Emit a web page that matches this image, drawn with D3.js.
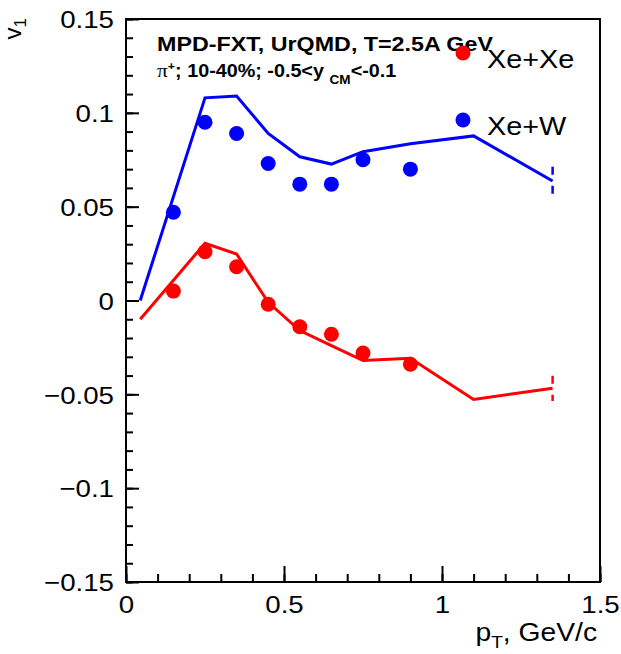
<!DOCTYPE html>
<html>
<head>
<meta charset="utf-8">
<script src="https://cdn.jsdelivr.net/npm/d3@7"></script>
<style>
body { margin: 0; background: #fff; }
text { font-family: "Liberation Sans", Arial, sans-serif; }
</style>
</head>
<body>
<div id="root"></div>
<script>
// points (UrQMD markers)
const ptDots = [0.15, 0.25, 0.35, 0.45, 0.55, 0.65, 0.75, 0.9];
const xexeDots = [0.005, 0.026, 0.018, -0.002, -0.014, -0.018, -0.028, -0.034];
const xewDots = [0.047, 0.095, 0.089, 0.073, 0.062, 0.062, 0.075, 0.070];
// curves
const ptLine = [0.045, 0.25, 0.35, 0.45, 0.55, 0.65, 0.75, 0.9, 1.1, 1.35];
const xexeLine = [-0.010, 0.0305, 0.0248, -0.001, -0.016, -0.024, -0.032, -0.0308, -0.0527, -0.0468];
const xewLine = [0, 0.108, 0.109, 0.089, 0.0766, 0.0727, 0.0793, 0.0835, 0.0877, 0.0637];
// dashed error at the last curve point
const xexeEndErr = 0.0067;
const xewEndErr = 0.0076;
const xTicks = [0, 0.5, 1, 1.5];
const yTicks = [-0.15, -0.1, -0.05, 0, 0.05, 0.1, 0.15];
const seriesNames = ['Xe+Xe', 'Xe+W'];
const seriesColors = ['#ff0000', '#0000ff'];

const width = 621;
const height = 654;
const SX = 1.13; // horizontal stretch of the original canvas
const margin = {left: 126, right: 21, top: 19, bottom: 72};

const x = d3.scaleLinear().domain([0, 1.5]).range([margin.left, width - margin.right]);
const y = d3.scaleLinear().domain([-0.15, 0.15]).range([height - margin.bottom, margin.top]);

const svg = d3.select('#root')
    .append('svg')
    .attr('width', width)
    .attr('height', height);

const fmt = v => {
    const s = d3.format('')(+v.toFixed(2));
    return s.replace('-', '\u2212');
};

// minor ticks
svg.append('g')
    .attr('transform', `translate(0,${y(-0.15)})`)
    .call(d3.axisBottom(x).tickValues(d3.range(0, 1.501, 0.1)).tickSize(-8).tickFormat(''));
svg.append('g')
    .attr('transform', `translate(${x(0)},0)`)
    .call(d3.axisLeft(y).tickValues(d3.range(-0.15, 0.1501, 0.01)).tickSize(-7).tickFormat(''));

// major ticks + labels
const xAxis = svg.append('g')
    .attr('transform', `translate(0,${y(-0.15)})`)
    .call(d3.axisBottom(x).tickValues(xTicks).tickSize(-16).tickFormat(fmt));
xAxis.selectAll('text')
    .attr('y', null).attr('dy', null)
    .attr('transform', `translate(0,31) scale(${SX},1)`)
    .attr('font-size', 24.5);

const yAxis = svg.append('g')
    .attr('transform', `translate(${x(0)},0)`)
    .call(d3.axisLeft(y).tickValues(yTicks).tickSize(-13).tickFormat(fmt));
yAxis.selectAll('text')
    .attr('x', 0).attr('dy', '0.36em')
    .attr('transform', `translate(-12,0) scale(${SX},1)`)
    .attr('text-anchor', 'end')
    .attr('font-size', 24.5);

svg.selectAll('.domain').remove();
svg.selectAll('.tick line').attr('stroke', '#000').attr('stroke-width', 2);
svg.selectAll('.tick text').attr('fill', '#000').attr('font-family', '"Liberation Sans", Arial, sans-serif');

// frame
svg.append('rect')
    .attr('x', x(0)).attr('y', y(0.15))
    .attr('width', x(1.5) - x(0)).attr('height', y(-0.15) - y(0.15))
    .attr('fill', 'none').attr('stroke', '#000').attr('stroke-width', 2);

// curves
const line = d3.line().x(d => x(d[0])).y(d => y(d[1]));
const curves = [xexeLine, xewLine];
const endErrs = [xexeEndErr, xewEndErr];
curves.forEach((vals, i) => {
    svg.append('path')
        .datum(ptLine.map((p, j) => [p, vals[j]]))
        .attr('d', line)
        .attr('fill', 'none')
        .attr('stroke', seriesColors[i])
        .attr('stroke-width', 3)
        .attr('stroke-linejoin', 'miter');
    const last = vals[vals.length - 1];
    const xe = ptLine[ptLine.length - 1];
    svg.append('line')
        .attr('x1', x(xe)).attr('x2', x(xe))
        .attr('y1', y(last + endErrs[i])).attr('y2', y(last - endErrs[i]))
        .attr('stroke', seriesColors[i])
        .attr('stroke-width', 2.5)
        .attr('stroke-dasharray', '8,11');
});

// markers
[xexeDots, xewDots].forEach((vals, i) => {
    svg.append('g')
        .selectAll('circle')
        .data(ptDots.map((p, j) => [p, vals[j]]))
        .join('circle')
        .attr('cx', d => x(d[0]))
        .attr('cy', d => y(d[1]))
        .attr('r', 7.5)
        .attr('fill', seriesColors[i]);
});

// header text
svg.append('text')
    .attr('transform', `translate(157,51) scale(${SX},1)`)
    .attr('font-size', 20.6)
    .attr('font-weight', 'bold')
    .text('MPD-FXT, UrQMD, T=2.5A GeV');

const sub = svg.append('text')
    .attr('transform', `translate(157,77) scale(${SX},1)`)
    .attr('font-size', 17.5)
    .attr('font-weight', 'bold');
sub.append('tspan').attr('font-family', '"Liberation Serif", serif').attr('font-weight', 'normal').attr('font-size', 19).text('\u03c0');
sub.append('tspan').attr('font-size', 11).attr('dy', -7).text('+');
sub.append('tspan').attr('dy', 7).text('; 10-40%; -0.5<y');
sub.append('tspan').attr('font-size', 12).attr('dy', 7).attr('dx', 5).text('CM');
sub.append('tspan').attr('dy', -7).text('<-0.1');

// legend
const legY = [53, 120];
seriesNames.forEach((name, i) => {
    svg.append('circle')
        .attr('cx', 463).attr('cy', legY[i]).attr('r', 7.5)
        .attr('fill', seriesColors[i]);
    svg.append('text')
        .attr('transform', `translate(487,${legY[i] + 15}) scale(${SX},1)`)
        .attr('font-size', 25.5)
        .text(name);
});

// axis titles
const xt = svg.append('text')
    .attr('transform', `translate(597,641) scale(${SX},1)`)
    .attr('text-anchor', 'end')
    .attr('font-size', 25);
xt.append('tspan').text('p');
xt.append('tspan').attr('font-size', 17).attr('dy', 7).text('T');
xt.append('tspan').attr('dy', -7).text(', GeV/c');

const yt = svg.append('text')
    .attr('transform', 'translate(21,18) rotate(-90)')
    .attr('text-anchor', 'end')
    .attr('font-size', 24);
yt.append('tspan').text('v');
yt.append('tspan').attr('font-size', 17).attr('dy', 5).text('1');
</script>
</body>
</html>
